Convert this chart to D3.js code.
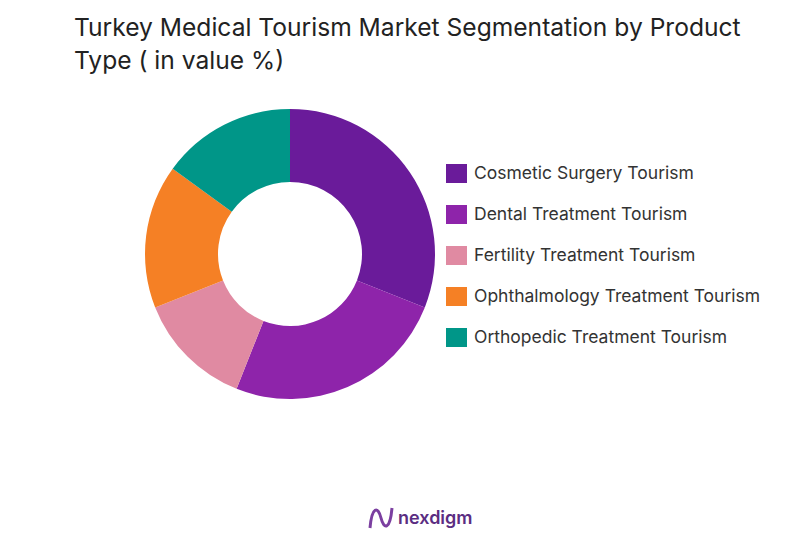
<!DOCTYPE html>
<html><head><meta charset="utf-8">
<script src="https://cdn.jsdelivr.net/npm/d3@7"></script>
<style>body{margin:0;background:#fff}</style></head>
<body><svg id="c" width="808" height="546"></svg>
<script>
const categories=["Cosmetic Surgery Tourism","Dental Treatment Tourism","Fertility Treatment Tourism","Ophthalmology Treatment Tourism","Orthopedic Treatment Tourism"];
const values=[31,25,13,16,15];
const colors=["#6a1b9a","#8e24aa","#e08aa2","#f58025","#009688"];
const svg=d3.select("#c");
const font="Inter, 'Open Sans', sans-serif";
const t=svg.append("text").attr("x",74).attr("y",36).attr("font-family",font).attr("font-size",24.6).attr("fill","#222");
t.append("tspan").attr("x",74).text("Turkey Medical Tourism Market Segmentation by Product");
t.append("tspan").attr("x",74).attr("dy",33).text("Type ( in value %)");
const pie=d3.pie().sort(null)(values);
const arc=d3.arc().innerRadius(72).outerRadius(145);
const g=svg.append("g").attr("transform","translate(290,254)");
g.selectAll("path").data(pie).join("path").attr("d",arc).attr("fill",(d,i)=>colors[i]);
const lg=svg.append("g").attr("transform","translate(446,164)");
categories.forEach((c,i)=>{
 const r=lg.append("g").attr("transform",`translate(0,${i*41})`);
 r.append("rect").attr("width",21).attr("height",19).attr("fill",colors[i]);
 r.append("text").attr("x",28).attr("y",15).attr("font-family",font).attr("font-size",17.5).attr("fill","#333").text(c);
});
const lo=svg.append("g").attr("transform","translate(368,506)");
lo.append("path").attr("d","M2,22 C4,0 10,0 13,12 C16,24 22,24 24,2").attr("fill","none").attr("stroke","#7b3fa0").attr("stroke-width",3);
lo.append("text").attr("x",30).attr("y",18).attr("font-family",font).attr("font-size",18).attr("font-weight",600).attr("fill","#5b2d82").text("nexdigm");
</script></body></html>
